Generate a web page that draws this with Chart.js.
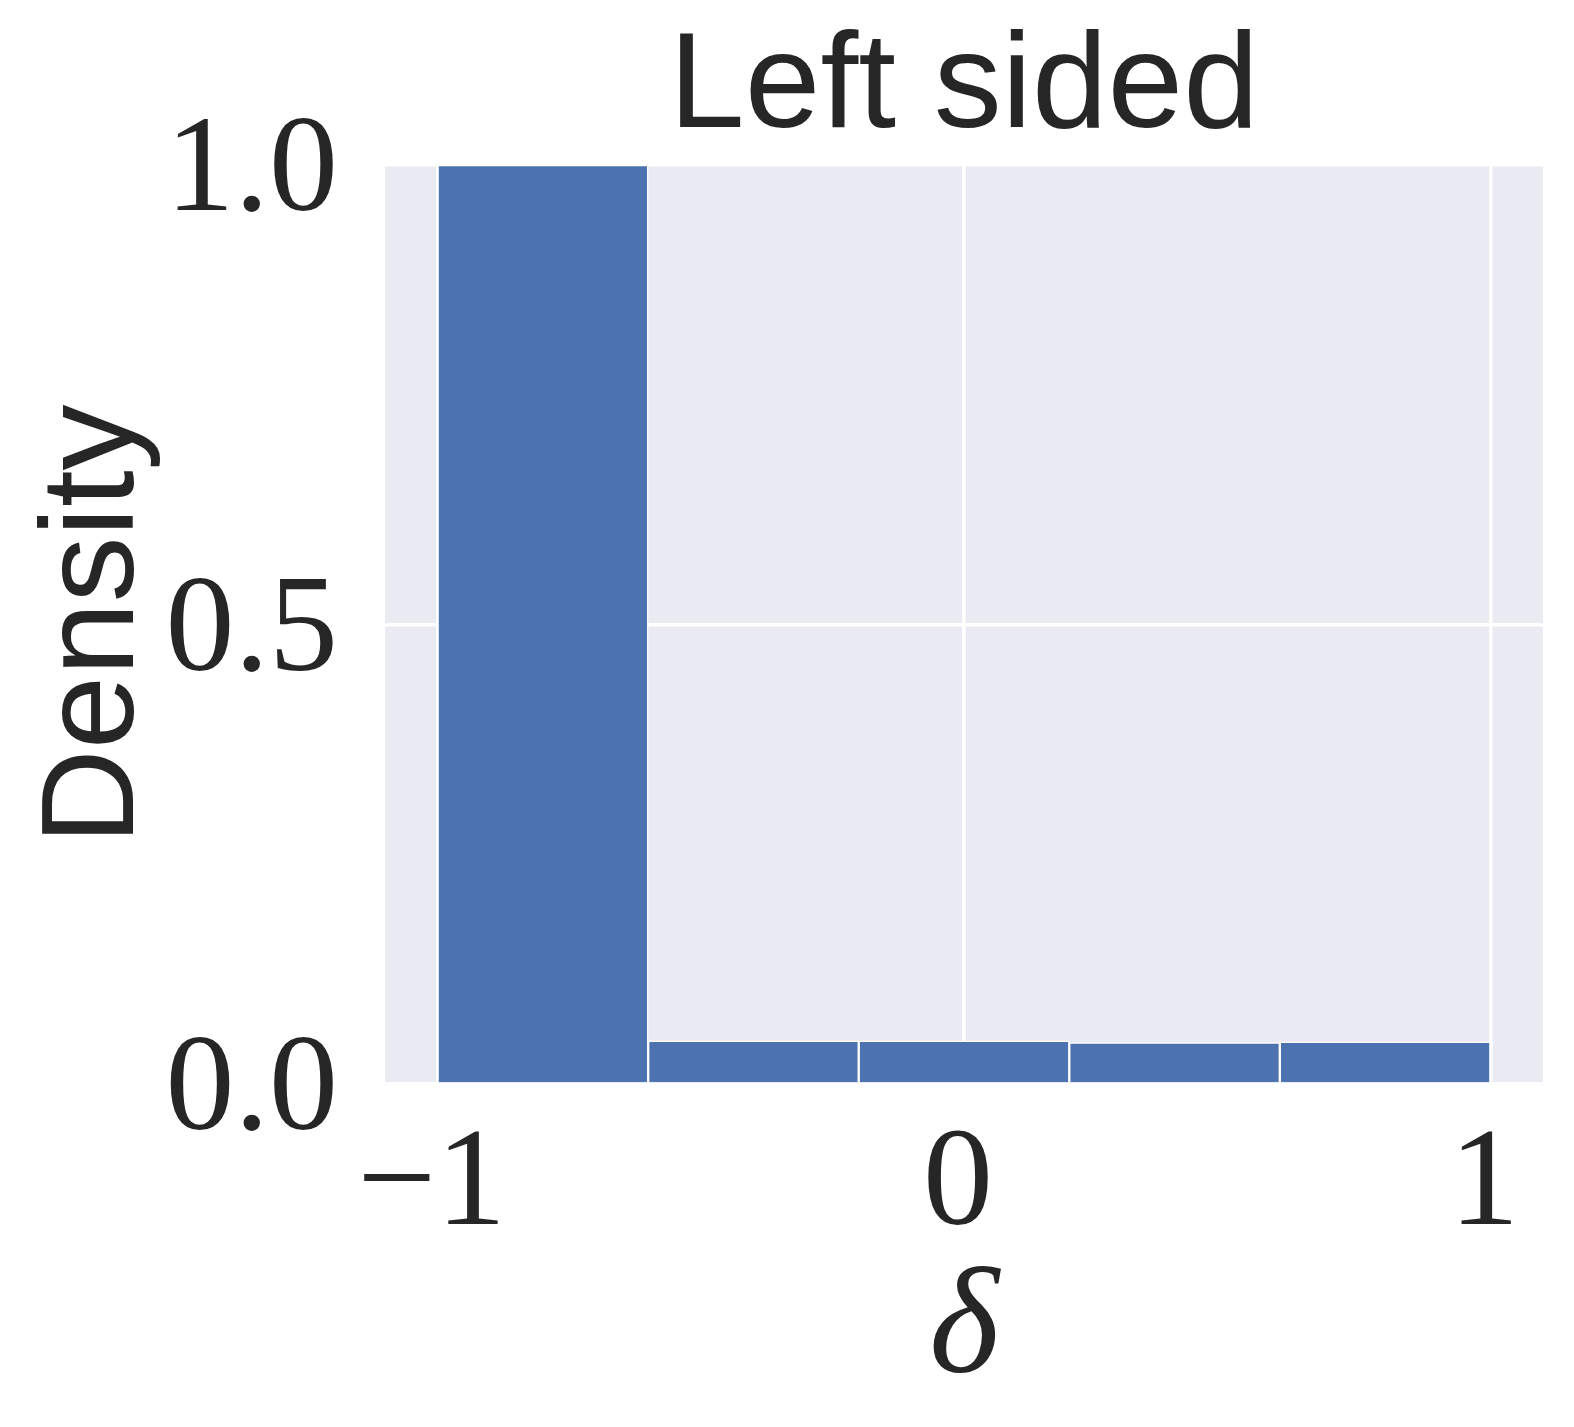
<!DOCTYPE html>
<html>
<head>
<meta charset="utf-8">
<script src="https://cdn.jsdelivr.net/npm/chart.js@4/dist/chart.umd.min.js"></script>
<style>
  html, body { margin: 0; padding: 0; background: #ffffff; }
  #wrap { width: 1574px; height: 1427px; }
</style>
</head>
<body>
<div id="wrap"><canvas id="c" width="1574" height="1427"></canvas></div>
<script>
// Histogram of delta, 5 bins of width 0.4 over [-1, 1]
const binCenters = [-0.8, -0.4, 0.0, 0.4, 0.8];
const densities  = [1.0, 0.047, 0.047, 0.045, 0.046];   // first bin runs past the top of the axis
const xTickValues = [-1, 0, 1];
const xTickLabels = ['\u22121', '0', '1'];
const yTickValues = [0, 0.5, 1.0];
const yTickLabels = ['0.0', '0.5', '1.0'];
const titleText = 'Left sided';
const xLabel = '\u03B4';
const yLabel = 'Density';

const TEXT = '#262626';
const serif = '"Liberation Serif", "DejaVu Serif", serif';
const sans = '"Liberation Sans", Arial, sans-serif';

const bgPlugin = {
  id: 'plotBg',
  beforeDraw(chart) {
    const {ctx, chartArea: a} = chart;
    ctx.save();
    ctx.fillStyle = '#EAEAF2';
    ctx.fillRect(a.left, a.top, a.right - a.left, a.bottom - a.top);
    ctx.restore();
  }
};

new Chart(document.getElementById('c'), {
  type: 'bar',
  data: {
    datasets: [{
      data: binCenters.map((x, i) => ({x: x, y: densities[i]})),
      backgroundColor: '#4C72B0',
      borderColor: '#FFFFFF',
      borderWidth: 1.5,
      borderSkipped: 'start',
      barPercentage: 1.0,
      categoryPercentage: 1.0
    }]
  },
  options: {
    responsive: false,
    animation: false,
    devicePixelRatio: 1,
    layout: { padding: { left: 0, right: 31, top: 0, bottom: 0 } },
    plugins: {
      legend: { display: false },
      tooltip: { enabled: false },
      title: {
        display: true,
        text: titleText,
        fullSize: false,
        color: TEXT,
        font: { family: sans, size: 136, weight: 'normal', lineHeight: 1 },
        padding: { top: 21, bottom: 8 }
      }
    },
    scales: {
      x: {
        type: 'linear',
        min: -1.1,
        max: 1.1,
        offset: false,
        grid: { color: '#FFFFFF', lineWidth: 3.5, drawTicks: false, offset: false },
        border: { display: false },
        afterBuildTicks(scale) { scale.ticks = xTickValues.map(v => ({value: v})); },
        afterFit(scale) { scale.height = 343; },
        ticks: {
          color: TEXT,
          padding: 33,
          labelOffset: -6,
          maxRotation: 0,
          autoSkip: false,
          font: { family: serif, size: 140, lineHeight: 1 },
          callback(value) { const i = xTickValues.indexOf(value); return i >= 0 ? xTickLabels[i] : ''; }
        },
        title: {
          display: true,
          text: xLabel,
          color: TEXT,
          font: { family: serif, size: 150, style: 'italic', lineHeight: 1 },
          padding: { top: 0, bottom: 19 }
        }
      },
      y: {
        type: 'linear',
        min: 0,
        max: 1.0,
        grid: { color: '#FFFFFF', lineWidth: 3.5, drawTicks: false },
        border: { display: false },
        afterBuildTicks(scale) { scale.ticks = yTickValues.map(v => ({value: v})); },
        afterFit(scale) { scale.width = 385; },
        ticks: {
          color: TEXT,
          padding: 47,
          labelOffset: 9,
          autoSkip: false,
          font: { family: serif, size: 138, lineHeight: 1 },
          callback(value) { const i = yTickValues.indexOf(value); return i >= 0 ? yTickLabels[i] : ''; }
        },
        title: {
          display: true,
          text: yLabel,
          color: TEXT,
          font: { family: sans, size: 132, weight: 'normal', lineHeight: 1 },
          padding: { top: 31, bottom: 0 }
        }
      }
    }
  },
  plugins: [bgPlugin]
});
</script>
</body>
</html>
